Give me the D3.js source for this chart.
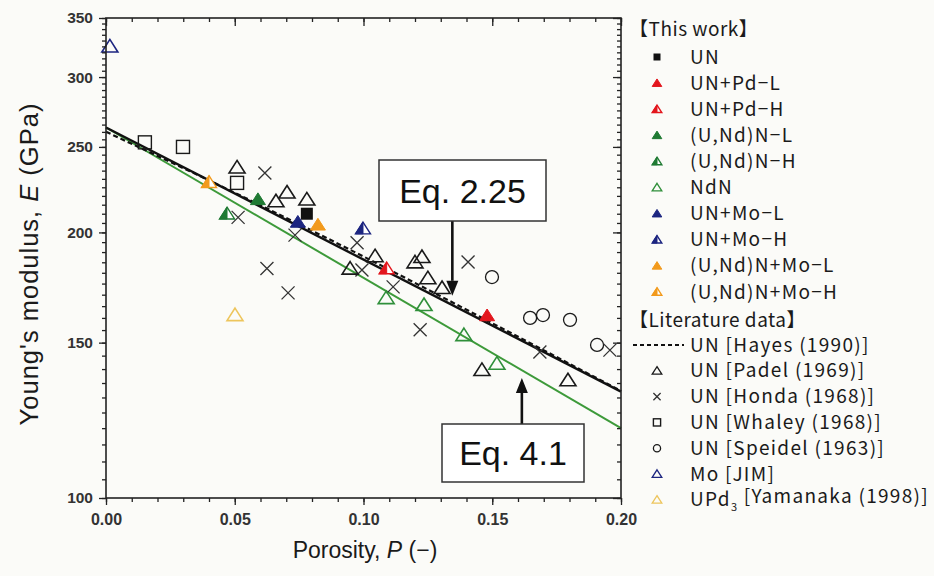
<!DOCTYPE html>
<html><head><meta charset="utf-8">
<script src="https://cdn.jsdelivr.net/npm/d3@7"></script>
<style>
  body { margin: 0; background: #fbfbf8; }
  svg { display: block; }
</style>
</head><body>
<svg id="chart" width="934" height="576"></svg>
<script>
// ---- This work ----
const unP = [0.078],            unE = [210];
const pdLP = [0.148],           pdLE = [161];
const pdHP = [0.109],           pdHE = [182];
const ndLP = [0.059],           ndLE = [218];
const ndHP = [0.047],           ndHE = [210];
const ndnP = [0.1088, 0.1235, 0.139, 0.1518], ndnE = [168.5, 165.5, 153, 142];
const moLP = [0.0745],          moLE = [205.5];
const moHP = [0.0998],          moHE = [202];
const ndMoLP = [0.0823],        ndMoLE = [204];
const ndMoHP = [0.040],         ndMoHE = [228];

// ---- Literature data ----
const padelP = [0.0509, 0.066, 0.0703, 0.078, 0.0948, 0.1045, 0.120, 0.1227, 0.125, 0.1305, 0.146, 0.1794];
const padelE = [237, 217, 222, 218, 182, 188, 185, 187.6, 177.5, 173, 139.7, 136];
const hondaP = [0.0617, 0.0513, 0.0625, 0.0707, 0.0734, 0.0975, 0.0994, 0.1115, 0.122, 0.1406, 0.1685, 0.1957];
const hondaE = [233.6, 208, 182, 170.8, 198.6, 194.7, 181.3, 173.5, 155.1, 185.1, 146.4, 147.1];
const whaleyP = [0.0151, 0.0299, 0.0509];
const whaleyE = [253, 250, 227.6];
const speidelP = [0.1499, 0.1647, 0.1697, 0.1802, 0.1907];
const speidelE = [178, 160, 161.2, 159.2, 149.1];
const moJimP = [0.0015], moJimE = [325];
const upd3P = [0.0501],  upd3E = [161.2];

// ---- Fitted / reference lines ----
const fitP = [0, 0.2],  fitE = [263, 132];          // this work
const eq41P = [0, 0.2], eq41E = [263, 120];         // Eq. 4.1
const hayesP = [0, 0.05, 0.10, 0.15, 0.20];
const hayesE = [260.1, 221.8, 187.8, 157.8, 132.2]; // Hayes (1990)

// ---- Axis ticks ----
const xMajor = [0, 0.05, 0.10, 0.15, 0.20];
const xMinor = d3.range(0, 21).map(i => i / 100);
const yMajor = [100, 150, 200, 250, 300, 350];
const yMinor = d3.range(100, 351, 5);

const C = {
  red: "#e3161d", green: "#1f7a33", ndn: "#2f8f3a", navy: "#1c2580",
  orange: "#f29a1c", gold: "#edc55c", line41: "#3d9a3a", ink: "#1a1a1a"
};

const svg = d3.select("#chart");
const x = d3.scaleLinear().domain([0, 0.2]).range([106, 621]);
const y = d3.scaleLog().domain([100, 350]).range([498, 18]);

// ---- Lines ----
const lineGen = d3.line().x(d => x(d[0])).y(d => y(d[1]));
const zip = (a, b) => a.map((v, i) => [v, b[i]]);

svg.append("path").datum(zip(eq41P, eq41E)).attr("d", lineGen)
  .attr("fill", "none").attr("stroke", C.line41).attr("stroke-width", 2);
svg.append("path").datum(zip(hayesP, hayesE)).attr("d", lineGen.curve(d3.curveMonotoneX))
  .attr("fill", "none").attr("stroke", "#111").attr("stroke-width", 2.2).attr("stroke-dasharray", "5,3");
lineGen.curve(d3.curveLinear);
svg.append("path").datum(zip(fitP, fitE)).attr("d", lineGen)
  .attr("fill", "none").attr("stroke", "#111").attr("stroke-width", 2.4);

// ---- Marker shapes ----
function triPath(cx, cy, s) {
  const h = s * 0.87;
  return `M${cx},${cy - h}L${cx + s},${cy + h * 0.8}L${cx - s},${cy + h * 0.8}Z`;
}
function halfTriPath(cx, cy, s) {
  const h = s * 0.87;
  return `M${cx},${cy - h}L${cx},${cy + h * 0.8}L${cx - s},${cy + h * 0.8}Z`;
}
function drawMarker(g, kind, color, cx, cy, s) {
  if (kind === "tri") {
    g.append("path").attr("d", triPath(cx, cy, s)).attr("fill", color).attr("stroke", color).attr("stroke-width", 1);
  } else if (kind === "half") {
    g.append("path").attr("d", triPath(cx, cy, s)).attr("fill", "#fff").attr("stroke", color).attr("stroke-width", 1.4);
    g.append("path").attr("d", halfTriPath(cx, cy, s)).attr("fill", color).attr("stroke", color).attr("stroke-width", 1);
  } else if (kind === "open") {
    g.append("path").attr("d", triPath(cx, cy, s)).attr("fill", "none").attr("stroke", color).attr("stroke-width", s > 6 ? 1.6 : 1.3);
  } else if (kind === "square") {
    g.append("rect").attr("x", cx - s).attr("y", cy - s).attr("width", 2 * s).attr("height", 2 * s)
      .attr("fill", color);
  } else if (kind === "osquare") {
    g.append("rect").attr("x", cx - s).attr("y", cy - s).attr("width", 2 * s).attr("height", 2 * s)
      .attr("fill", "none").attr("stroke", color).attr("stroke-width", 1.4);
  } else if (kind === "circle") {
    g.append("circle").attr("cx", cx).attr("cy", cy).attr("r", s)
      .attr("fill", "none").attr("stroke", color).attr("stroke-width", 1.3);
  } else if (kind === "cross") {
    g.append("path").attr("d", `M${cx - s},${cy - s}L${cx + s},${cy + s}M${cx - s},${cy + s}L${cx + s},${cy - s}`)
      .attr("stroke", color).attr("stroke-width", 1.3).attr("fill", "none");
  }
}

const series = [
  { P: whaleyP, E: whaleyE, kind: "osquare", color: C.ink, s: 6.5 },
  { P: speidelP, E: speidelE, kind: "circle", color: C.ink, s: 6.5 },
  { P: hondaP, E: hondaE, kind: "cross", color: "#333", s: 6.5 },
  { P: padelP, E: padelE, kind: "open", color: C.ink, s: 8 },
  { P: moJimP, E: moJimE, kind: "open", color: C.navy, s: 8 },
  { P: upd3P, E: upd3E, kind: "open", color: C.gold, s: 8 },
  { P: ndnP, E: ndnE, kind: "open", color: C.ndn, s: 8 },
  { P: unP, E: unE, kind: "square", color: "#111", s: 6 },
  { P: pdLP, E: pdLE, kind: "tri", color: C.red, s: 7.5 },
  { P: pdHP, E: pdHE, kind: "half", color: C.red, s: 7.5 },
  { P: ndLP, E: ndLE, kind: "tri", color: C.green, s: 7.5 },
  { P: ndHP, E: ndHE, kind: "half", color: C.green, s: 7.5 },
  { P: moLP, E: moLE, kind: "tri", color: C.navy, s: 7.5 },
  { P: moHP, E: moHE, kind: "half", color: C.navy, s: 7.5 },
  { P: ndMoLP, E: ndMoLE, kind: "tri", color: C.orange, s: 7.5 },
  { P: ndMoHP, E: ndMoHE, kind: "half", color: C.orange, s: 7.5 }
];
const gMarks = svg.append("g");
series.forEach(sr => sr.P.forEach((p, i) => drawMarker(gMarks, sr.kind, sr.color, x(p), y(sr.E[i]), sr.s)));

// ---- Axes ----
const axisCol = "#222";
const tickFont = "'Liberation Sans', Arial, sans-serif";
function styleAxis(g) {
  g.select(".domain").remove();
  g.selectAll("line").attr("stroke", axisCol).attr("stroke-width", 1.3);
}
// frame
svg.append("rect").attr("x", 106).attr("y", 18).attr("width", 515).attr("height", 480)
  .attr("fill", "none").attr("stroke", axisCol).attr("stroke-width", 1.6);

svg.append("g").attr("transform", "translate(0,498)")
  .call(d3.axisBottom(x).tickValues(xMinor).tickSize(4).tickFormat("")).call(styleAxis);
svg.append("g").attr("transform", "translate(0,498)")
  .call(d3.axisBottom(x).tickValues(xMajor).tickSize(7).tickPadding(9).tickFormat(d3.format(".2f")))
  .call(styleAxis)
  .call(g => g.selectAll("text").attr("font-family", tickFont).attr("font-size", 16)
    .attr("font-weight", "bold").attr("fill", "#333"));
svg.append("g").attr("transform", "translate(0,18)")
  .call(d3.axisTop(x).tickValues(xMinor).tickSize(-4).tickFormat("")).call(styleAxis);
svg.append("g").attr("transform", "translate(0,18)")
  .call(d3.axisTop(x).tickValues(xMajor).tickSize(-8).tickFormat("")).call(styleAxis);

svg.append("g").attr("transform", "translate(106,0)")
  .call(d3.axisLeft(y).tickValues(yMinor).tickSize(4).tickFormat("")).call(styleAxis);
svg.append("g").attr("transform", "translate(106,0)")
  .call(d3.axisLeft(y).tickValues(yMajor).tickSize(7).tickPadding(6).tickFormat(d3.format("d")))
  .call(styleAxis)
  .call(g => g.selectAll("text").attr("font-family", tickFont).attr("font-size", 15.5)
    .attr("font-weight", "bold").attr("fill", "#333"));
svg.append("g").attr("transform", "translate(621,0)")
  .call(d3.axisRight(y).tickValues(yMinor).tickSize(-4).tickFormat("")).call(styleAxis);
svg.append("g").attr("transform", "translate(621,0)")
  .call(d3.axisRight(y).tickValues(yMajor).tickSize(-8).tickFormat("")).call(styleAxis);

// ---- Axis titles ----
const titleFont = "'Liberation Sans', Arial, sans-serif";
const xt = svg.append("text").attr("x", 365).attr("y", 558).attr("text-anchor", "middle")
  .attr("font-family", titleFont).attr("font-size", 23).attr("fill", "#1a1a1a");
xt.append("tspan").text("Porosity, ");
xt.append("tspan").attr("font-style", "italic").text("P");
xt.append("tspan").text(" (−)");

const yt = svg.append("text").attr("transform", "translate(38,264) rotate(-90)").attr("text-anchor", "middle")
  .attr("font-family", titleFont).attr("font-size", 25.5).attr("letter-spacing", 1)
  .attr("fill", "#1a1a1a");
yt.append("tspan").text("Young's modulus, ");
yt.append("tspan").attr("font-style", "italic").text("E");
yt.append("tspan").text(" (GPa)");

// ---- Equation call-outs ----
function callout(label, bx, by, bw, bh, tipP, tipE, fromTop) {
  const g = svg.append("g");
  const ax = x(tipP), ay = y(tipE);
  const startY = fromTop ? by + bh : by;
  const dir = ay > startY ? 1 : -1;
  const headLen = 15, headW = 6;
  g.append("line").attr("x1", ax).attr("x2", ax).attr("y1", startY).attr("y2", ay - dir * headLen)
    .attr("stroke", "#111").attr("stroke-width", 2.6);
  g.append("path").attr("d", `M${ax},${ay}L${ax - headW},${ay - dir * headLen}L${ax + headW},${ay - dir * headLen}Z`)
    .attr("fill", "#111");
  g.append("rect").attr("x", bx).attr("y", by).attr("width", bw).attr("height", bh)
    .attr("fill", "#fff").attr("stroke", "#333").attr("stroke-width", 1.5);
  g.append("text").attr("x", bx + bw / 2).attr("y", by + bh / 2 + 12).attr("text-anchor", "middle")
    .attr("font-family", titleFont).attr("font-size", 34).attr("fill", "#111").text(label);
}
callout("Eq. 2.25", 379, 160, 167, 61, 0.1345, 169.5, true);
callout("Eq. 4.1", 442, 424, 142, 58, 0.1615, 136.8, false);

// ---- Legend ----
const legFont = "'Noto Sans CJK JP', 'Noto Sans', sans-serif";
const leg = svg.append("g").attr("font-family", legFont).attr("font-size", 19)
  .attr("letter-spacing", 1.3).attr("fill", "#1a1a1a");
leg.append("text").attr("x", 629).attr("y", 29).attr("dy", "0.35em").attr("letter-spacing", 0.5).text("【This work】");
const thisWork = [
  ["square", "#111", "UN"],
  ["tri", C.red, "UN+Pd−L"],
  ["half", C.red, "UN+Pd−H"],
  ["tri", C.green, "(U,Nd)N−L"],
  ["half", C.green, "(U,Nd)N−H"],
  ["open", C.ndn, "NdN"],
  ["tri", C.navy, "UN+Mo−L"],
  ["half", C.navy, "UN+Mo−H"],
  ["tri", C.orange, "(U,Nd)N+Mo−L"],
  ["half", C.orange, "(U,Nd)N+Mo−H"]
];
thisWork.forEach((d, i) => {
  const cy = 57 + i * 26.1;
  drawMarker(leg, d[0], d[1], 657, cy, d[0] === "square" ? 3.5 : 4.8);
  leg.append("text").attr("x", 690).attr("y", cy).attr("dy", "0.35em").text(d[2]);
});
leg.append("text").attr("x", 629).attr("y", 320).attr("dy", "0.35em").attr("letter-spacing", 0.5).text("【Literature data】");
const lit = [
  ["dash", "#111", "UN [Hayes (1990)]"],
  ["open", C.ink, "UN [Padel (1969)]"],
  ["cross", "#333", "UN [Honda (1968)]"],
  ["osquare", C.ink, "UN [Whaley (1968)]"],
  ["circle", C.ink, "UN [Speidel (1963)]"],
  ["open", C.navy, "Mo [JIM]"],
  ["open", C.gold, "UPd3 [Yamanaka (1998)]"]
];
lit.forEach((d, i) => {
  const cy = 345 + i * 25.8;
  if (d[0] === "dash") {
    leg.append("line").attr("x1", 633).attr("x2", 684).attr("y1", cy).attr("y2", cy)
      .attr("stroke", "#111").attr("stroke-width", 2).attr("stroke-dasharray", "4,3");
  } else {
    drawMarker(leg, d[0], d[1], 657, cy, d[0] === "open" ? 4.8 : 3.6);
  }
  const t = leg.append("text").attr("x", 690).attr("y", cy).attr("dy", "0.35em");
  if (d[2].startsWith("UPd3")) {
    t.append("tspan").text("UPd");
    t.append("tspan").attr("dy", "0.45em").attr("font-size", 11).text("3");
    t.append("tspan").attr("dy", "-0.45em").text(" [Yamanaka (1998)]");
  } else {
    t.text(d[2]);
  }
});
</script>
</body></html>
